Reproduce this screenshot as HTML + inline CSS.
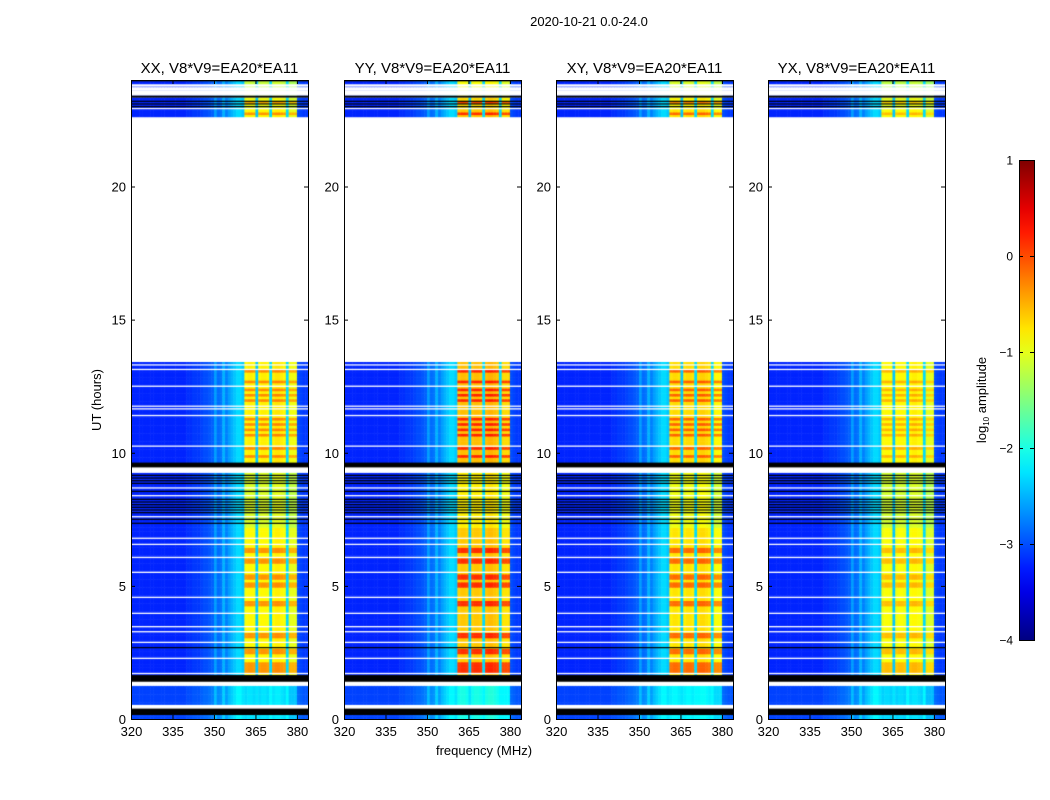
<!DOCTYPE html>
<html><head><meta charset="utf-8">
<style>
html,body{margin:0;padding:0;background:#fff;}
#root{position:relative;width:1050px;height:800px;overflow:hidden;font-family:"Liberation Sans","DejaVu Sans",sans-serif;}
canvas{position:absolute;}
svg{position:absolute;left:0;top:0;}
</style></head>
<body>
<div id="root">
<canvas id="p0" width="177" height="639" style="left:131px;top:80px"></canvas>
<canvas id="p1" width="177" height="639" style="left:344px;top:80px"></canvas>
<canvas id="p2" width="177" height="639" style="left:556px;top:80px"></canvas>
<canvas id="p3" width="177" height="639" style="left:768px;top:80px"></canvas>
<svg id="ov" width="1050" height="800"></svg>
</div>
<script>
// ---- data ----
const panelTitles = ["XX, V8*V9=EA20*EA11","YY, V8*V9=EA20*EA11","XY, V8*V9=EA20*EA11","YX, V8*V9=EA20*EA11"];
const panelGain = [0.0, 0.25, 0.1, -0.05];
const panelHot = [0.5, 0.75, 0.6, 0.35];
// per 1 MHz channel 320..383, baseline log10 amplitude
const chanLevel = [-3.2,-3.2,-3.2,-3.2,-3.2,-3.2,-3.2,-3.2,-3.2,-3.2,
 -3.2,-3.2,-3.2,-3.2,-3.2,-3.2,-3.2,-3.2,-3.2,-3.2,
 -3.15,-3.15,-3.1,-3.1,-3.1,-3.05,-3.0,-3.0,-2.95,-2.9,
 -2.6,-2.85,-2.8,-2.5,-2.75,-2.6,-2.5,-2.4,-2.3,-2.3,
 -2.4,-0.9,-0.85,-0.85,-0.9,-2.4,-0.9,-0.85,-0.85,-0.9,
 -2.3,-0.85,-0.8,-0.8,-0.85,-0.9,-2.3,-1.0,-1.0,-1.0,
 -3.0,-3.05,-3.1,-3.1];
// data segments [startHour, endHour, bandGain]
const segments = [[0.0,0.15,-1.4],[0.53,1.25,-1.4],[1.65,7.2,0.0],[7.2,9.25,-0.2],[9.63,13.41,0.05],
 [22.6,22.93,0.0],[22.93,23.34,-0.1],[23.41,23.62,-0.4],[23.75,24.0,-0.3]];
const hotRows = [13.0,12.6,12.3,12.1,11.9,11.2,11.0,10.8,10.6,10.1,9.8,6.3,5.9,5.3,5.0,4.3,3.1,2.5,2.0,1.8,23.1,22.7];
const whiteLines = [13.3,13.13,12.5,11.75,11.65,11.4,10.25,8.68,8.39,7.6,6.79,6.56,6.07,5.51,4.57,3.97,3.47,3.28,2.88,2.28,1.71,22.93];
const whiteBands = [[0.39,0.53],[1.25,1.4],[9.25,9.45],[13.41,22.6],[23.62,23.41],[23.75,23.84]];
const blackBands = [[0.15,0.39],[1.4,1.65],[9.45,9.63],[23.34,23.41]];
const blackLines = [9.15,9.05,8.95,8.85,8.55,8.25,8.15,8.05,7.95,7.85,7.75,7.5,7.35,2.68,23.2,23.1,23.0,23.97];
const xTicks = [320,335,350,365,380];
const yTicks = [0,5,10,15,20];
const cbTicks = [1,0,-1,-2,-3,-4];

// ---- scales ----
const PW=177, PH=639, F0=320, F1=384, H0=0, H1=24;
function xs(f){return (f-F0)/(F1-F0)*PW;}
function ys(h){return PH-(h-H0)/(H1-H0)*PH;}
function jet(t){t=Math.max(0,Math.min(1,t));
 const r=Math.max(0,Math.min(1,1.5-Math.abs(4*t-3)));
 const g=Math.max(0,Math.min(1,1.5-Math.abs(4*t-2)));
 const b=Math.max(0,Math.min(1,1.5-Math.abs(4*t-1)));
 return `rgb(${Math.round(r*255)},${Math.round(g*255)},${Math.round(b*255)})`;}
function col(v){return jet((v+4)/5);}

for(let p=0;p<4;p++){
 const c=document.getElementById('p'+p).getContext('2d');
 c.fillStyle='#fff';c.fillRect(0,0,PW,PH);
 const rowH=0.1;
 segments.forEach(s=>{
  for(let h=s[0];h<s[1]-1e-6;h+=rowH){
   const he=Math.min(h+rowH,s[1]);
   const hot=hotRows.some(r=>Math.abs(r-h)<0.06)?panelHot[p]:0;
   chanLevel.forEach((v,j)=>{
    const band=v>-1.5;
    const val=band? v+s[2]+panelGain[p]+hot : v+(s[2]<-0.5?0.15:0);
    c.fillStyle=col(val);
    const x0=xs(F0+j), x1=xs(F0+j+1);
    const y0=ys(he), y1=ys(h);
    c.fillRect(x0,y0,x1-x0+0.5,y1-y0+0.5);
   });
  }
 });
 c.fillStyle='#fff';
 whiteBands.forEach(b=>{const a=ys(Math.max(b[0],b[1])),z=ys(Math.min(b[0],b[1]));c.fillRect(0,a,PW,z-a);});
 whiteLines.forEach(h=>c.fillRect(0,ys(h)-0.6,PW,1.3));
 c.fillStyle='#000';
 blackBands.forEach(b=>{const a=ys(b[1]),z=ys(b[0]);c.fillRect(0,a,PW,z-a);});
 blackLines.forEach(h=>c.fillRect(0,ys(h)-0.6,PW,1.2));
}

// ---- axes overlay ----
const NS='http://www.w3.org/2000/svg', ov=document.getElementById('ov');
function el(tag,attrs,parent){const e=document.createElementNS(NS,tag);for(const k in attrs)e.setAttribute(k,attrs[k]);(parent||ov).appendChild(e);return e;}
function txt(s,attrs,parent){const e=el('text',attrs,parent);e.textContent=s;return e;}
const lefts=[131,344,556,768], TOP=80;
lefts.forEach((L,p)=>{
 const g=el('g',{});
 
 
 const fr=el('rect',{x:L+0.5,y:TOP+0.5,width:PW,height:PH,fill:'none',stroke:'#000','stroke-width':1},g);
 
 
 const t=txt(panelTitles[p],{x:L+PW/2,y:73,'text-anchor':'middle','font-size':15,fill:'#000'},g);
 
 
 xTicks.forEach(f=>{const x=L+xs(f)+0.5;
  el('line',{x1:x,x2:x,y1:TOP+PH,y2:TOP+PH-4,stroke:'#000'},g);
  el('line',{x1:x,x2:x,y1:TOP,y2:TOP+4,stroke:'#000'},g);
  const l=txt(String(f),{x:x,y:736,'text-anchor':'middle','font-size':13},g);
  
  
 });
 yTicks.forEach(h=>{const y=TOP+ys(h)+0.5;
  el('line',{x1:L,x2:L+4,y1:y,y2:y,stroke:'#000'},g);
  el('line',{x1:L+PW,x2:L+PW-4,y1:y,y2:y,stroke:'#000'},g);
  const l=txt(String(h),{x:L-5,y:y+4.5,'text-anchor':'end','font-size':13},g);
  
  
 });
});
const st=txt('2020-10-21 0.0-24.0',{x:589,y:26,'text-anchor':'middle','font-size':13});


const yl=txt('UT (hours)',{x:0,y:0,'text-anchor':'middle','font-size':13,transform:'translate(101,400) rotate(-90)'});


const xl=txt('frequency (MHz)',{x:484,y:755,'text-anchor':'middle','font-size':13});


// colorbar
const cb=el('g',{});


const defs=el('defs',{},cb);
const gr=el('linearGradient',{id:'jetg',x1:0,y1:1,x2:0,y2:0},defs);
for(let i=0;i<=20;i++){el('stop',{offset:i/20,'stop-color':jet(i/20)},gr);}
const CBx=1019,CBy=160,CBw=15,CBh=480;
el('rect',{x:CBx+0.5,y:CBy+0.5,width:CBw,height:CBh,fill:'url(#jetg)',stroke:'#000'},cb);
cbTicks.forEach(v=>{const y=CBy+(1-v)/5*CBh+0.5;
 el('line',{x1:CBx,x2:CBx+4,y1:y,y2:y,stroke:'#000'},cb);
 el('line',{x1:CBx+CBw,x2:CBx+CBw-4,y1:y,y2:y,stroke:'#000'},cb);
 const l=txt(v<0?'\u2212'+(-v):String(v),{x:1013,y:y+4,'text-anchor':'end','font-size':12},cb);
 
 
});
const cl=el('text',{x:0,y:0,'text-anchor':'middle','font-size':13,transform:'translate(986,400) rotate(-90)'},cb);


cl.appendChild(document.createTextNode('log'));
const sub=el('tspan',{'font-size':8,dy:3},cl);sub.textContent='10';
const rest=el('tspan',{dy:-3},cl);rest.textContent=' amplitude';
</script>
</body></html>
